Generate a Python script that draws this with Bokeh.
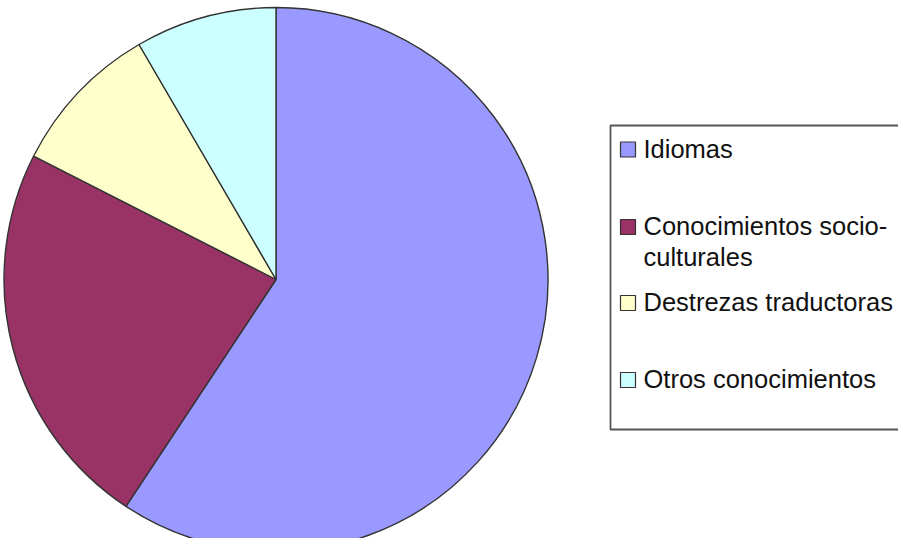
import math
from bokeh.plotting import figure
from bokeh.models import ColumnDataSource
from bokeh.core.properties import value
from bokeh.embed import file_html
from bokeh.resources import INLINE

# ---- data ----
categories = ["Idiomas", "Conocimientos socio-culturales", "Destrezas traductoras", "Otros conocimientos"]
shares = [59.3, 23.2, 9.1, 8.4]
colors = ["#9999FF", "#993366", "#FFFFCC", "#CCFFFF"]
legend_lines = [["Idiomas"], ["Conocimientos socio-", "culturales"], ["Destrezas traductoras"], ["Otros conocimientos"]]

W, H = 898, 538
p = figure(width=W, height=H, x_range=(0, W), y_range=(0, H),
           x_axis_type=None, y_axis_type=None, toolbar_location=None,
           output_backend="svg", min_border=0)
p.grid.visible = False
p.outline_line_color = None
p.background_fill_color = "white"
p.border_fill_color = "white"

# pie
cx, cy, r = 275.5, 259, 272
total = sum(shares)
starts, ends = [], []
cum = 0.0
for v in shares:
    starts.append(math.pi / 2 - 2 * math.pi * cum / total)
    cum += v
    ends.append(math.pi / 2 - 2 * math.pi * cum / total)
src = ColumnDataSource(dict(x=[cx] * len(shares), y=[cy] * len(shares), start=starts, end=ends,
                            color=colors, cat=categories))
p.wedge(x="x", y="y", radius=r, start_angle="start", end_angle="end", direction="clock",
        fill_color="color", line_color="#333333", line_width=1.4, source=src)

# legend box
p.quad(left=[610], right=[940], top=[413], bottom=[109], fill_color="white",
       line_color="#555555", line_width=1.8)

item_centers = [389, 311.5, 235.5, 158.5]
line_gap = 31
sx, sy, tx, ty, tt = [], [], [], [], []
for c, lines in zip(item_centers, legend_lines):
    sx.append(627.5)
    sy.append(c)
    for k, t in enumerate(lines):
        tx.append(643)
        ty.append(c + 1 - k * line_gap)
        tt.append(t)
p.rect(x=sx, y=sy, width=15, height=15, fill_color=colors, line_color="#333333", line_width=1.2)
p.text(x=tx, y=ty, text=tt, text_font=value("Liberation Sans"), text_font_size="25.5px",
       text_color="#111111", text_baseline="alphabetic", text_align="left")

open("out.html", "w").write(file_html(p, INLINE))
